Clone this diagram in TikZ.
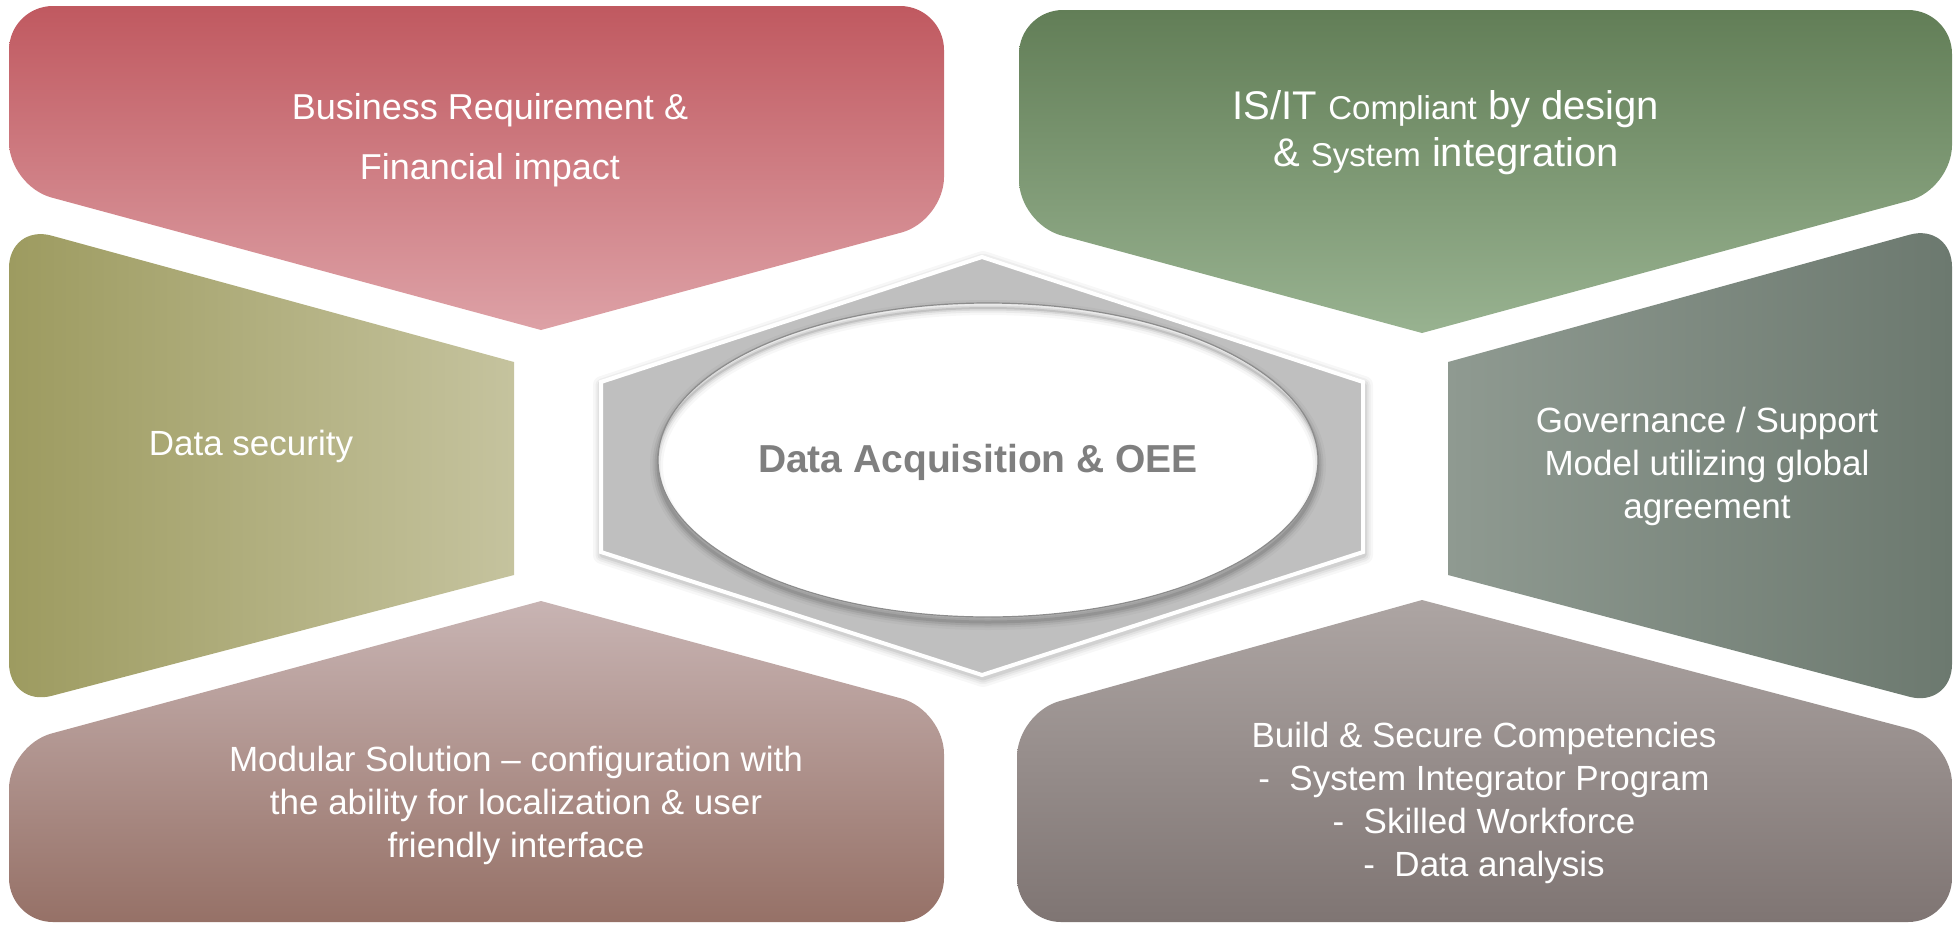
\documentclass[tikz,border=0pt]{standalone}
\usepackage{fontspec}
\setmainfont{Liberation Sans}
\definecolor{redT}{RGB}{192,89,96}
\definecolor{redB}{RGB}{221,161,166}
\definecolor{grnT}{RGB}{98,126,87}
\definecolor{grnB}{RGB}{152,178,144}
\definecolor{olvL}{RGB}{157,155,96}
\definecolor{olvR}{RGB}{197,195,158}
\definecolor{govL}{RGB}{143,154,145}
\definecolor{govR}{RGB}{108,121,111}
\definecolor{mauT}{RGB}{200,180,179}
\definecolor{mauB}{RGB}{150,113,103}
\definecolor{tauT}{RGB}{173,165,163}
\definecolor{tauB}{RGB}{127,117,115}
\definecolor{hexgray}{RGB}{191,191,191}
\definecolor{ctrtext}{RGB}{127,127,127}
\tikzset{
  petal/.style={rounded corners=44},
  lbl/.style={text=white, align=center, inner sep=0pt, font=\fontsize{35}{43}\selectfont},
  ctrlbl/.style={text=ctrtext, inner sep=0pt, font=\bfseries\fontsize{39}{46}\selectfont}
}
\begin{document}
\begin{tikzpicture}[x=1pt,y=-1pt]
\useasboundingbox (0,0) rectangle (1954,924);
% outer petals
\shade[petal, top color=redT, bottom color=redB]
  (541,330) -- (9,186) -- (9,6) -- (944,6) -- (944,221) -- (541,330);
\shade[petal, top color=grnT, bottom color=grnB]
  (1422,333) -- (1019,224) -- (1019,10) -- (1952,10) -- (1952,189) -- (1422,333);
\shade[petal, left color=olvL, right color=olvR]
  (514,362) -- (9,224) -- (9,707) -- (514,575);
\shade[petal, left color=govL, right color=govR]
  (1448,362) -- (1952,223) -- (1952,708) -- (1448,575);
\shade[petal, top color=mauT, bottom color=mauB]
  (541,601) -- (944,710) -- (944,922) -- (9,922) -- (9,745) -- (541,601);
\shade[petal, top color=tauT, bottom color=tauB]
  (1422,600) -- (1952,740) -- (1952,922) -- (1017,922) -- (1017,713) -- (1422,600);
% central hexagon with soft shadow
\foreach \w/\o in {18/0.03,13/0.04,9/0.05,5/0.07}
  \draw[line width=\w, black, opacity=\o, line join=round, shift={(1,3)}]
    (982,257) -- (1363,382) -- (1363,552) -- (982,675) -- (601,552) -- (601,382) -- cycle;
\fill[hexgray, draw=white, line width=4, line join=miter]
  (982,257) -- (1363,382) -- (1363,552) -- (982,675) -- (601,552) -- (601,382) -- cycle;
% ellipse with shadow
\foreach \w/\o in {16/0.03,11/0.05,7/0.07,3/0.09}
  \draw[line width=\w, black, opacity=\o] (988,465) ellipse [x radius=330, y radius=157];
\fill[white] (988,460) ellipse [x radius=330, y radius=157];
\begin{scope}
  \clip (988,460) ellipse [x radius=330, y radius=157];
  \foreach \w/\o in {14/0.03,9/0.05,5/0.07,2/0.1}
    \draw[line width=\w, black, opacity=\o] (988,466) ellipse [x radius=332, y radius=158];
\end{scope}
\draw[black!45, line width=1.2] (988,460) ellipse [x radius=330, y radius=157];
% labels
\node[lbl, font=\fontsize{36}{60}\selectfont] (biz) at (490,140) {Business Requirement \&\\Financial impact};
\node[lbl, font=\fontsize{40}{47}\selectfont] (isit) at (1446,133)
  {IS/IT {\fontsize{33}{47}\selectfont Compliant} by design\\\& {\fontsize{33}{47}\selectfont System} integration};
\node[lbl] (sec) at (251,446) {Data security};
\node[lbl] (gov) at (1707,466) {Governance / Support\\Model utilizing global\\agreement};
\node[lbl] (mod) at (516,805) {Modular Solution -- configuration with\\the ability for localization \& user\\friendly interface};
\node[lbl] (bld) at (1484,803) {Build \& Secure Competencies\\-\ \ System Integrator Program\\-\ \ Skilled Workforce\\-\ \ Data analysis};
\node[ctrlbl] (ctr) at (978,462) {Data Acquisition \& OEE};
\end{tikzpicture}
\end{document}
